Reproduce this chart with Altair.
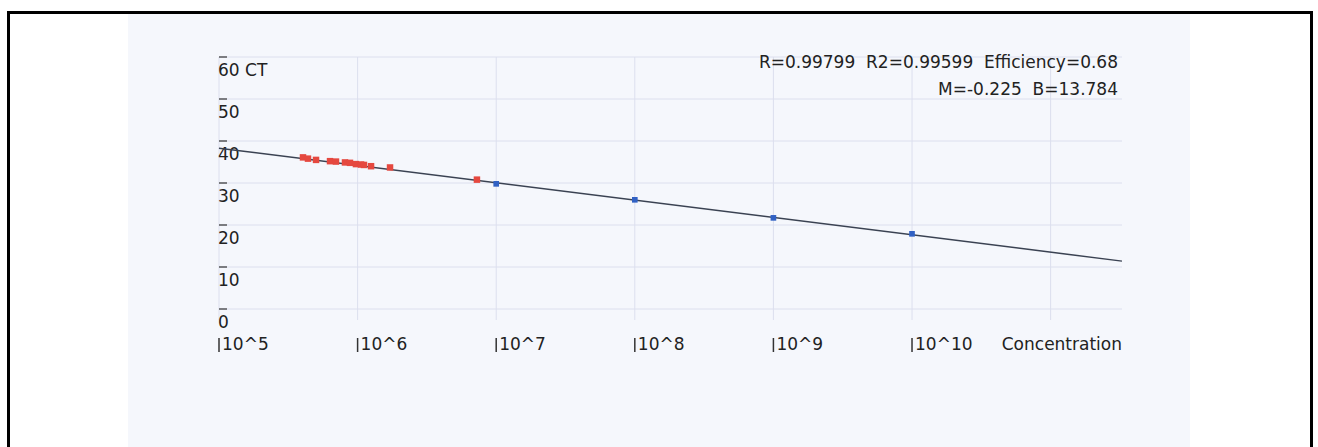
import altair as alt
import pandas as pd

# ---- data ----
red_logc = [5.606, 5.642, 5.700, 5.801, 5.844, 5.909, 5.945, 5.988, 6.025, 6.046, 6.097, 6.234, 6.861]
red_ct = [36.1, 35.8, 35.5, 35.2, 35.1, 34.9, 34.8, 34.5, 34.4, 34.3, 34.0, 33.7, 30.8]

blue_logc = [7.0, 8.0, 9.0, 10.0]
blue_ct = [29.8, 26.0, 21.7, 17.9]

fit_logc = [5.0, 11.515]
fit_ct = [38.3, 11.4]

ct_ticks = [0, 10, 20, 30, 40, 50, 60]
ct_labels = ["0", "10", "20", "30", "40", "50", "60 CT"]

x_ticks = [5, 6, 7, 8, 9, 10]
x_labels = ["10^5", "10^6", "10^7", "10^8", "10^9", "10^10"]
x_grid = [5, 6, 7, 8, 9, 10, 11]

stats_lines = ["R=0.99799\u00a0 R2=0.99599\u00a0 Efficiency=0.68", "M=-0.225\u00a0 B=13.784"]
x_title = "Concentration"

FONT = "DejaVu Sans"
FS = 17
TXT = "#222222"
GRID = "#dcdfee"

xs = alt.Scale(domain=[5, 11.515], range=[219, 1122])
ys = alt.Scale(domain=[0, 60], range=[309, 57])

one = pd.DataFrame({"k": [0]})

bg = alt.Chart(one).mark_rect(color="#f5f7fc").encode(
    x=alt.value(128), x2=alt.value(1190), y=alt.value(13), y2=alt.value(447)
)

hgrid = alt.Chart(pd.DataFrame({"ct": ct_ticks})).mark_rule(color=GRID, strokeWidth=1).encode(
    x=alt.value(219), x2=alt.value(1122), y=alt.Y("ct:Q", scale=ys, axis=None)
)
vgrid = alt.Chart(pd.DataFrame({"lc": x_grid})).mark_rule(color=GRID, strokeWidth=1).encode(
    x=alt.X("lc:Q", scale=xs, axis=None), y=alt.value(57), y2=alt.value(320)
)

ytick = alt.Chart(pd.DataFrame({"ct": ct_ticks})).mark_rule(color="#333333", strokeWidth=1.2).encode(
    x=alt.value(219), x2=alt.value(227), y=alt.Y("ct:Q", scale=ys, axis=None)
)
ylab = alt.Chart(pd.DataFrame({"ct": ct_ticks, "lab": ct_labels})).mark_text(
    align="left", baseline="alphabetic", dy=19, font=FONT, fontSize=FS, color=TXT
).encode(x=alt.value(218), y=alt.Y("ct:Q", scale=ys, axis=None), text="lab:N")

fit = alt.Chart(pd.DataFrame({"lc": fit_logc, "ct": fit_ct})).mark_line(
    color="#3a4252", strokeWidth=1.5
).encode(x=alt.X("lc:Q", scale=xs, axis=None), y=alt.Y("ct:Q", scale=ys, axis=None))

red = alt.Chart(pd.DataFrame({"lc": red_logc, "ct": red_ct})).mark_square(
    size=42, color="#e5483f", opacity=1
).encode(x=alt.X("lc:Q", scale=xs, axis=None), y=alt.Y("ct:Q", scale=ys, axis=None))

blue = alt.Chart(pd.DataFrame({"lc": blue_logc, "ct": blue_ct})).mark_square(
    size=32, color="#3161c4", opacity=1
).encode(x=alt.X("lc:Q", scale=xs, axis=None), y=alt.Y("ct:Q", scale=ys, axis=None))

xtick = alt.Chart(pd.DataFrame({"lc": x_ticks})).mark_rule(color="#333333", strokeWidth=1.5).encode(
    x=alt.X("lc:Q", scale=xs, axis=None), y=alt.value(338), y2=alt.value(352)
)
xlab = alt.Chart(pd.DataFrame({"lc": x_ticks, "lab": x_labels})).mark_text(
    align="left", baseline="alphabetic", dx=3, font=FONT, fontSize=FS, color=TXT
).encode(x=alt.X("lc:Q", scale=xs, axis=None), y=alt.value(350), text="lab:N")

xtitle = alt.Chart(pd.DataFrame({"t": [x_title]})).mark_text(
    align="right", baseline="alphabetic", font=FONT, fontSize=FS, color=TXT
).encode(x=alt.value(1122), y=alt.value(350), text="t:N")

stats = alt.Chart(pd.DataFrame({"t": stats_lines, "yy": [68, 95]})).mark_text(
    align="right", baseline="alphabetic", font=FONT, fontSize=FS, color=TXT
).encode(x=alt.value(1118), y=alt.Y("yy:Q", scale=alt.Scale(domain=[0, 447], range=[0, 447]), axis=None), text="t:N")

border = alt.Chart(one).mark_rect(fill=None, stroke="black", strokeWidth=3, fillOpacity=0).encode(
    x=alt.value(8.5), x2=alt.value(1311.5), y=alt.value(12.5), y2=alt.value(452)
)

chart = alt.layer(
    bg, hgrid, vgrid, ytick, ylab, fit, red, blue, xtick, xlab, xtitle, stats, border
).resolve_scale(y="independent").properties(
    width=1318, height=447, autosize=alt.AutoSizeParams(type="none"), padding=0,
    background="white"
).configure_view(stroke=None)

chart.save("out.html", embed_options={"renderer": "svg", "actions": False})
